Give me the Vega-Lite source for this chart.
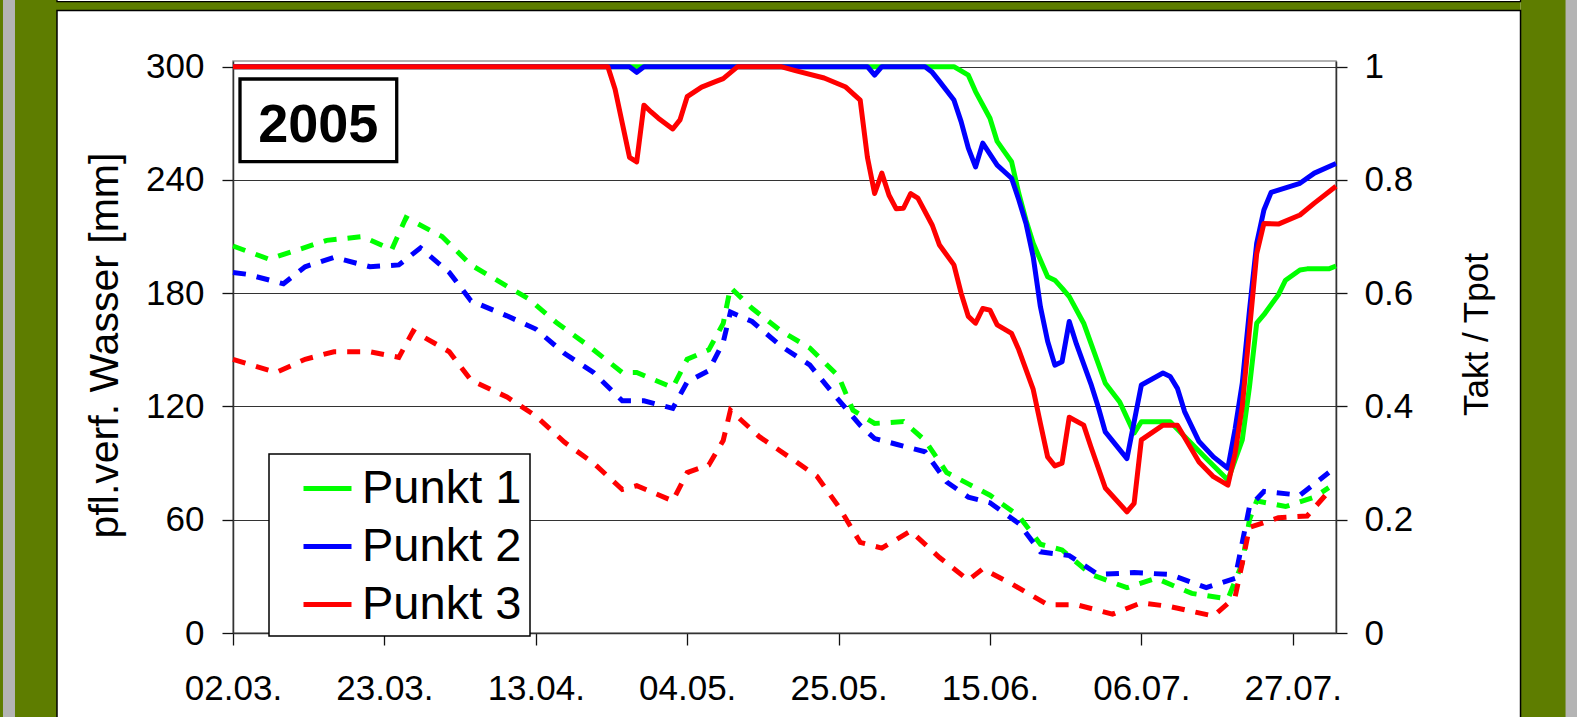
{
  "$schema": "https://vega.github.io/schema/vega-lite/v6.json",
  "width": 1103,
  "height": 572,
  "autosize": {"type": "none"},
  "padding": {"left": 233, "top": 61, "right": 249, "bottom": 84},
  "background": "white",
  "config": {
    "font": "Liberation Sans",
    "view": {"stroke": "#999", "strokeWidth": 1.5},
    "axis": {
      "labelFont": "Liberation Sans", "titleFont": "Liberation Sans",
      "labelColor": "black", "titleColor": "black", "labelFontSize": 35,
      "titleFontWeight": "normal", "domainColor": "#333", "domainWidth": 1.5,
      "tickColor": "#111", "tickWidth": 1.3, "labelFlush": false,
      "labelOverlap": false, "labelBound": false
    },
    "legend": {
      "orient": "none", "legendX": 36, "legendY": 393, "title": null,
      "fillColor": "white", "strokeColor": "black", "strokeWidth": 1.5,
      "padding": 8, "cornerRadius": 0,
      "symbolType": "stroke", "symbolSize": 2304, "symbolStrokeWidth": 5,
      "symbolOffset": 24, "symbolDash": [1, 0],
      "labelOffset": 8, "labelFontSize": 47, "labelFont": "Liberation Sans",
      "labelColor": "black", "labelLimit": 400, "rowPadding": 8
    }
  },
  "datasets": {
    "dashed": [
      {"date": "2005-03-02", "punkt": "Punkt 1", "value": 205},
      {"date": "2005-03-07", "punkt": "Punkt 1", "value": 198},
      {"date": "2005-03-11", "punkt": "Punkt 1", "value": 203},
      {"date": "2005-03-15", "punkt": "Punkt 1", "value": 208},
      {"date": "2005-03-20", "punkt": "Punkt 1", "value": 210},
      {"date": "2005-03-24", "punkt": "Punkt 1", "value": 203},
      {"date": "2005-03-26", "punkt": "Punkt 1", "value": 220},
      {"date": "2005-03-31", "punkt": "Punkt 1", "value": 210},
      {"date": "2005-04-04", "punkt": "Punkt 1", "value": 195},
      {"date": "2005-04-08", "punkt": "Punkt 1", "value": 186},
      {"date": "2005-04-12", "punkt": "Punkt 1", "value": 177},
      {"date": "2005-04-16", "punkt": "Punkt 1", "value": 164},
      {"date": "2005-04-20", "punkt": "Punkt 1", "value": 153},
      {"date": "2005-04-25", "punkt": "Punkt 1", "value": 138},
      {"date": "2005-04-27", "punkt": "Punkt 1", "value": 138},
      {"date": "2005-05-02", "punkt": "Punkt 1", "value": 130},
      {"date": "2005-05-04", "punkt": "Punkt 1", "value": 145},
      {"date": "2005-05-07", "punkt": "Punkt 1", "value": 150},
      {"date": "2005-05-09", "punkt": "Punkt 1", "value": 164},
      {"date": "2005-05-10", "punkt": "Punkt 1", "value": 183},
      {"date": "2005-05-13", "punkt": "Punkt 1", "value": 172},
      {"date": "2005-05-17", "punkt": "Punkt 1", "value": 160},
      {"date": "2005-05-21", "punkt": "Punkt 1", "value": 151},
      {"date": "2005-05-25", "punkt": "Punkt 1", "value": 136},
      {"date": "2005-05-27", "punkt": "Punkt 1", "value": 118},
      {"date": "2005-05-30", "punkt": "Punkt 1", "value": 111},
      {"date": "2005-06-03", "punkt": "Punkt 1", "value": 112},
      {"date": "2005-06-06", "punkt": "Punkt 1", "value": 102},
      {"date": "2005-06-09", "punkt": "Punkt 1", "value": 85},
      {"date": "2005-06-12", "punkt": "Punkt 1", "value": 79},
      {"date": "2005-06-15", "punkt": "Punkt 1", "value": 73},
      {"date": "2005-06-19", "punkt": "Punkt 1", "value": 62},
      {"date": "2005-06-22", "punkt": "Punkt 1", "value": 47},
      {"date": "2005-06-25", "punkt": "Punkt 1", "value": 44},
      {"date": "2005-06-29", "punkt": "Punkt 1", "value": 31},
      {"date": "2005-07-04", "punkt": "Punkt 1", "value": 24},
      {"date": "2005-07-08", "punkt": "Punkt 1", "value": 29},
      {"date": "2005-07-13", "punkt": "Punkt 1", "value": 21},
      {"date": "2005-07-18", "punkt": "Punkt 1", "value": 18},
      {"date": "2005-07-20", "punkt": "Punkt 1", "value": 37},
      {"date": "2005-07-21", "punkt": "Punkt 1", "value": 60},
      {"date": "2005-07-22", "punkt": "Punkt 1", "value": 70},
      {"date": "2005-07-26", "punkt": "Punkt 1", "value": 67},
      {"date": "2005-07-30", "punkt": "Punkt 1", "value": 72},
      {"date": "2005-08-01", "punkt": "Punkt 1", "value": 77},
      {"date": "2005-03-02", "punkt": "Punkt 2", "value": 191},
      {"date": "2005-03-04", "punkt": "Punkt 2", "value": 190},
      {"date": "2005-03-09", "punkt": "Punkt 2", "value": 185},
      {"date": "2005-03-12", "punkt": "Punkt 2", "value": 194},
      {"date": "2005-03-16", "punkt": "Punkt 2", "value": 199},
      {"date": "2005-03-21", "punkt": "Punkt 2", "value": 194},
      {"date": "2005-03-25", "punkt": "Punkt 2", "value": 195},
      {"date": "2005-03-28", "punkt": "Punkt 2", "value": 204},
      {"date": "2005-04-01", "punkt": "Punkt 2", "value": 191},
      {"date": "2005-04-04", "punkt": "Punkt 2", "value": 176},
      {"date": "2005-04-09", "punkt": "Punkt 2", "value": 168},
      {"date": "2005-04-13", "punkt": "Punkt 2", "value": 161},
      {"date": "2005-04-17", "punkt": "Punkt 2", "value": 148},
      {"date": "2005-04-21", "punkt": "Punkt 2", "value": 138},
      {"date": "2005-04-25", "punkt": "Punkt 2", "value": 123},
      {"date": "2005-04-28", "punkt": "Punkt 2", "value": 123},
      {"date": "2005-05-02", "punkt": "Punkt 2", "value": 119},
      {"date": "2005-05-04", "punkt": "Punkt 2", "value": 133},
      {"date": "2005-05-07", "punkt": "Punkt 2", "value": 139},
      {"date": "2005-05-09", "punkt": "Punkt 2", "value": 154},
      {"date": "2005-05-10", "punkt": "Punkt 2", "value": 170},
      {"date": "2005-05-13", "punkt": "Punkt 2", "value": 165},
      {"date": "2005-05-17", "punkt": "Punkt 2", "value": 152},
      {"date": "2005-05-21", "punkt": "Punkt 2", "value": 142},
      {"date": "2005-05-24", "punkt": "Punkt 2", "value": 128},
      {"date": "2005-05-28", "punkt": "Punkt 2", "value": 110},
      {"date": "2005-05-30", "punkt": "Punkt 2", "value": 103},
      {"date": "2005-06-02", "punkt": "Punkt 2", "value": 100},
      {"date": "2005-06-06", "punkt": "Punkt 2", "value": 96},
      {"date": "2005-06-09", "punkt": "Punkt 2", "value": 80},
      {"date": "2005-06-12", "punkt": "Punkt 2", "value": 72},
      {"date": "2005-06-15", "punkt": "Punkt 2", "value": 69},
      {"date": "2005-06-19", "punkt": "Punkt 2", "value": 58},
      {"date": "2005-06-22", "punkt": "Punkt 2", "value": 43},
      {"date": "2005-06-26", "punkt": "Punkt 2", "value": 41},
      {"date": "2005-06-30", "punkt": "Punkt 2", "value": 31},
      {"date": "2005-07-05", "punkt": "Punkt 2", "value": 32},
      {"date": "2005-07-10", "punkt": "Punkt 2", "value": 31},
      {"date": "2005-07-15", "punkt": "Punkt 2", "value": 24},
      {"date": "2005-07-19", "punkt": "Punkt 2", "value": 29},
      {"date": "2005-07-20", "punkt": "Punkt 2", "value": 48},
      {"date": "2005-07-21", "punkt": "Punkt 2", "value": 67},
      {"date": "2005-07-23", "punkt": "Punkt 2", "value": 75},
      {"date": "2005-07-28", "punkt": "Punkt 2", "value": 73},
      {"date": "2005-08-01", "punkt": "Punkt 2", "value": 85},
      {"date": "2005-03-02", "punkt": "Punkt 3", "value": 145},
      {"date": "2005-03-08", "punkt": "Punkt 3", "value": 138},
      {"date": "2005-03-12", "punkt": "Punkt 3", "value": 145},
      {"date": "2005-03-16", "punkt": "Punkt 3", "value": 149},
      {"date": "2005-03-21", "punkt": "Punkt 3", "value": 149},
      {"date": "2005-03-25", "punkt": "Punkt 3", "value": 146},
      {"date": "2005-03-27", "punkt": "Punkt 3", "value": 160},
      {"date": "2005-04-01", "punkt": "Punkt 3", "value": 149},
      {"date": "2005-04-04", "punkt": "Punkt 3", "value": 134},
      {"date": "2005-04-09", "punkt": "Punkt 3", "value": 125},
      {"date": "2005-04-13", "punkt": "Punkt 3", "value": 115},
      {"date": "2005-04-17", "punkt": "Punkt 3", "value": 101},
      {"date": "2005-04-21", "punkt": "Punkt 3", "value": 90},
      {"date": "2005-04-25", "punkt": "Punkt 3", "value": 76},
      {"date": "2005-04-27", "punkt": "Punkt 3", "value": 78},
      {"date": "2005-05-02", "punkt": "Punkt 3", "value": 70},
      {"date": "2005-05-04", "punkt": "Punkt 3", "value": 85},
      {"date": "2005-05-07", "punkt": "Punkt 3", "value": 89},
      {"date": "2005-05-09", "punkt": "Punkt 3", "value": 102},
      {"date": "2005-05-10", "punkt": "Punkt 3", "value": 118},
      {"date": "2005-05-14", "punkt": "Punkt 3", "value": 104},
      {"date": "2005-05-19", "punkt": "Punkt 3", "value": 91},
      {"date": "2005-05-22", "punkt": "Punkt 3", "value": 83},
      {"date": "2005-05-25", "punkt": "Punkt 3", "value": 67},
      {"date": "2005-05-28", "punkt": "Punkt 3", "value": 48},
      {"date": "2005-05-31", "punkt": "Punkt 3", "value": 45},
      {"date": "2005-06-04", "punkt": "Punkt 3", "value": 54},
      {"date": "2005-06-08", "punkt": "Punkt 3", "value": 40},
      {"date": "2005-06-12", "punkt": "Punkt 3", "value": 28},
      {"date": "2005-06-14", "punkt": "Punkt 3", "value": 34},
      {"date": "2005-06-18", "punkt": "Punkt 3", "value": 26},
      {"date": "2005-06-23", "punkt": "Punkt 3", "value": 15},
      {"date": "2005-06-27", "punkt": "Punkt 3", "value": 15},
      {"date": "2005-07-02", "punkt": "Punkt 3", "value": 10},
      {"date": "2005-07-06", "punkt": "Punkt 3", "value": 16},
      {"date": "2005-07-10", "punkt": "Punkt 3", "value": 14},
      {"date": "2005-07-16", "punkt": "Punkt 3", "value": 9},
      {"date": "2005-07-19", "punkt": "Punkt 3", "value": 19},
      {"date": "2005-07-20", "punkt": "Punkt 3", "value": 37},
      {"date": "2005-07-21", "punkt": "Punkt 3", "value": 56},
      {"date": "2005-07-25", "punkt": "Punkt 3", "value": 61},
      {"date": "2005-07-29", "punkt": "Punkt 3", "value": 62},
      {"date": "2005-08-01", "punkt": "Punkt 3", "value": 75}
    ],
    "solid": [
      {"date": "2005-03-02", "punkt": "Punkt 1", "value": 1},
      {"date": "2005-06-10", "punkt": "Punkt 1", "value": 1},
      {"date": "2005-06-12", "punkt": "Punkt 1", "value": 0.985},
      {"date": "2005-06-13", "punkt": "Punkt 1", "value": 0.956},
      {"date": "2005-06-15", "punkt": "Punkt 1", "value": 0.909},
      {"date": "2005-06-16", "punkt": "Punkt 1", "value": 0.868},
      {"date": "2005-06-17", "punkt": "Punkt 1", "value": 0.85},
      {"date": "2005-06-18", "punkt": "Punkt 1", "value": 0.832},
      {"date": "2005-06-19", "punkt": "Punkt 1", "value": 0.776},
      {"date": "2005-06-20", "punkt": "Punkt 1", "value": 0.729},
      {"date": "2005-06-21", "punkt": "Punkt 1", "value": 0.688},
      {"date": "2005-06-23", "punkt": "Punkt 1", "value": 0.629},
      {"date": "2005-06-24", "punkt": "Punkt 1", "value": 0.623},
      {"date": "2005-06-25", "punkt": "Punkt 1", "value": 0.609},
      {"date": "2005-06-26", "punkt": "Punkt 1", "value": 0.594},
      {"date": "2005-06-28", "punkt": "Punkt 1", "value": 0.547},
      {"date": "2005-07-01", "punkt": "Punkt 1", "value": 0.441},
      {"date": "2005-07-03", "punkt": "Punkt 1", "value": 0.408},
      {"date": "2005-07-05", "punkt": "Punkt 1", "value": 0.353},
      {"date": "2005-07-06", "punkt": "Punkt 1", "value": 0.373},
      {"date": "2005-07-10", "punkt": "Punkt 1", "value": 0.373},
      {"date": "2005-07-12", "punkt": "Punkt 1", "value": 0.347},
      {"date": "2005-07-15", "punkt": "Punkt 1", "value": 0.308},
      {"date": "2005-07-18", "punkt": "Punkt 1", "value": 0.27},
      {"date": "2005-07-20", "punkt": "Punkt 1", "value": 0.341},
      {"date": "2005-07-21", "punkt": "Punkt 1", "value": 0.435},
      {"date": "2005-07-22", "punkt": "Punkt 1", "value": 0.547},
      {"date": "2005-07-23", "punkt": "Punkt 1", "value": 0.562},
      {"date": "2005-07-25", "punkt": "Punkt 1", "value": 0.597},
      {"date": "2005-07-26", "punkt": "Punkt 1", "value": 0.623},
      {"date": "2005-07-28", "punkt": "Punkt 1", "value": 0.641},
      {"date": "2005-07-29", "punkt": "Punkt 1", "value": 0.643},
      {"date": "2005-08-01", "punkt": "Punkt 1", "value": 0.643},
      {"date": "2005-08-02", "punkt": "Punkt 1", "value": 0.648},
      {"date": "2005-03-02", "punkt": "Punkt 2", "value": 1},
      {"date": "2005-04-26", "punkt": "Punkt 2", "value": 1},
      {"date": "2005-04-27", "punkt": "Punkt 2", "value": 0.99},
      {"date": "2005-04-28", "punkt": "Punkt 2", "value": 1},
      {"date": "2005-05-29", "punkt": "Punkt 2", "value": 1},
      {"date": "2005-05-30", "punkt": "Punkt 2", "value": 0.985},
      {"date": "2005-05-31", "punkt": "Punkt 2", "value": 1},
      {"date": "2005-06-06", "punkt": "Punkt 2", "value": 1},
      {"date": "2005-06-07", "punkt": "Punkt 2", "value": 0.99},
      {"date": "2005-06-08", "punkt": "Punkt 2", "value": 0.974},
      {"date": "2005-06-10", "punkt": "Punkt 2", "value": 0.941},
      {"date": "2005-06-11", "punkt": "Punkt 2", "value": 0.903},
      {"date": "2005-06-12", "punkt": "Punkt 2", "value": 0.856},
      {"date": "2005-06-13", "punkt": "Punkt 2", "value": 0.823},
      {"date": "2005-06-14", "punkt": "Punkt 2", "value": 0.865},
      {"date": "2005-06-16", "punkt": "Punkt 2", "value": 0.826},
      {"date": "2005-06-18", "punkt": "Punkt 2", "value": 0.803},
      {"date": "2005-06-19", "punkt": "Punkt 2", "value": 0.765},
      {"date": "2005-06-20", "punkt": "Punkt 2", "value": 0.723},
      {"date": "2005-06-21", "punkt": "Punkt 2", "value": 0.664},
      {"date": "2005-06-22", "punkt": "Punkt 2", "value": 0.576},
      {"date": "2005-06-23", "punkt": "Punkt 2", "value": 0.515},
      {"date": "2005-06-24", "punkt": "Punkt 2", "value": 0.473},
      {"date": "2005-06-25", "punkt": "Punkt 2", "value": 0.479},
      {"date": "2005-06-26", "punkt": "Punkt 2", "value": 0.55},
      {"date": "2005-06-27", "punkt": "Punkt 2", "value": 0.51},
      {"date": "2005-06-29", "punkt": "Punkt 2", "value": 0.44},
      {"date": "2005-06-30", "punkt": "Punkt 2", "value": 0.4},
      {"date": "2005-07-01", "punkt": "Punkt 2", "value": 0.355},
      {"date": "2005-07-04", "punkt": "Punkt 2", "value": 0.308},
      {"date": "2005-07-06", "punkt": "Punkt 2", "value": 0.438},
      {"date": "2005-07-09", "punkt": "Punkt 2", "value": 0.459},
      {"date": "2005-07-10", "punkt": "Punkt 2", "value": 0.453},
      {"date": "2005-07-11", "punkt": "Punkt 2", "value": 0.432},
      {"date": "2005-07-12", "punkt": "Punkt 2", "value": 0.391},
      {"date": "2005-07-14", "punkt": "Punkt 2", "value": 0.338},
      {"date": "2005-07-16", "punkt": "Punkt 2", "value": 0.311},
      {"date": "2005-07-18", "punkt": "Punkt 2", "value": 0.291},
      {"date": "2005-07-19", "punkt": "Punkt 2", "value": 0.36},
      {"date": "2005-07-20", "punkt": "Punkt 2", "value": 0.441},
      {"date": "2005-07-21", "punkt": "Punkt 2", "value": 0.57},
      {"date": "2005-07-22", "punkt": "Punkt 2", "value": 0.688},
      {"date": "2005-07-23", "punkt": "Punkt 2", "value": 0.747},
      {"date": "2005-07-24", "punkt": "Punkt 2", "value": 0.778},
      {"date": "2005-07-28", "punkt": "Punkt 2", "value": 0.794},
      {"date": "2005-07-30", "punkt": "Punkt 2", "value": 0.812},
      {"date": "2005-08-02", "punkt": "Punkt 2", "value": 0.829},
      {"date": "2005-03-02", "punkt": "Punkt 3", "value": 1},
      {"date": "2005-04-23", "punkt": "Punkt 3", "value": 1},
      {"date": "2005-04-24", "punkt": "Punkt 3", "value": 0.96},
      {"date": "2005-04-25", "punkt": "Punkt 3", "value": 0.9},
      {"date": "2005-04-26", "punkt": "Punkt 3", "value": 0.84},
      {"date": "2005-04-27", "punkt": "Punkt 3", "value": 0.832},
      {"date": "2005-04-28", "punkt": "Punkt 3", "value": 0.932},
      {"date": "2005-04-29", "punkt": "Punkt 3", "value": 0.92},
      {"date": "2005-04-30", "punkt": "Punkt 3", "value": 0.909},
      {"date": "2005-05-02", "punkt": "Punkt 3", "value": 0.89},
      {"date": "2005-05-03", "punkt": "Punkt 3", "value": 0.906},
      {"date": "2005-05-04", "punkt": "Punkt 3", "value": 0.947},
      {"date": "2005-05-06", "punkt": "Punkt 3", "value": 0.964},
      {"date": "2005-05-08", "punkt": "Punkt 3", "value": 0.974},
      {"date": "2005-05-09", "punkt": "Punkt 3", "value": 0.979},
      {"date": "2005-05-11", "punkt": "Punkt 3", "value": 1},
      {"date": "2005-05-17", "punkt": "Punkt 3", "value": 1},
      {"date": "2005-05-19", "punkt": "Punkt 3", "value": 0.993},
      {"date": "2005-05-23", "punkt": "Punkt 3", "value": 0.98},
      {"date": "2005-05-26", "punkt": "Punkt 3", "value": 0.964},
      {"date": "2005-05-28", "punkt": "Punkt 3", "value": 0.941},
      {"date": "2005-05-29", "punkt": "Punkt 3", "value": 0.84},
      {"date": "2005-05-30", "punkt": "Punkt 3", "value": 0.776},
      {"date": "2005-05-31", "punkt": "Punkt 3", "value": 0.812},
      {"date": "2005-06-01", "punkt": "Punkt 3", "value": 0.773},
      {"date": "2005-06-02", "punkt": "Punkt 3", "value": 0.749},
      {"date": "2005-06-03", "punkt": "Punkt 3", "value": 0.75},
      {"date": "2005-06-04", "punkt": "Punkt 3", "value": 0.776},
      {"date": "2005-06-05", "punkt": "Punkt 3", "value": 0.768},
      {"date": "2005-06-07", "punkt": "Punkt 3", "value": 0.72},
      {"date": "2005-06-08", "punkt": "Punkt 3", "value": 0.685},
      {"date": "2005-06-10", "punkt": "Punkt 3", "value": 0.65},
      {"date": "2005-06-11", "punkt": "Punkt 3", "value": 0.6},
      {"date": "2005-06-12", "punkt": "Punkt 3", "value": 0.559},
      {"date": "2005-06-13", "punkt": "Punkt 3", "value": 0.547},
      {"date": "2005-06-14", "punkt": "Punkt 3", "value": 0.573},
      {"date": "2005-06-15", "punkt": "Punkt 3", "value": 0.57},
      {"date": "2005-06-16", "punkt": "Punkt 3", "value": 0.544},
      {"date": "2005-06-18", "punkt": "Punkt 3", "value": 0.529},
      {"date": "2005-06-19", "punkt": "Punkt 3", "value": 0.5},
      {"date": "2005-06-21", "punkt": "Punkt 3", "value": 0.43},
      {"date": "2005-06-22", "punkt": "Punkt 3", "value": 0.37},
      {"date": "2005-06-23", "punkt": "Punkt 3", "value": 0.311},
      {"date": "2005-06-24", "punkt": "Punkt 3", "value": 0.295},
      {"date": "2005-06-25", "punkt": "Punkt 3", "value": 0.3},
      {"date": "2005-06-26", "punkt": "Punkt 3", "value": 0.381},
      {"date": "2005-06-28", "punkt": "Punkt 3", "value": 0.367},
      {"date": "2005-06-29", "punkt": "Punkt 3", "value": 0.329},
      {"date": "2005-07-01", "punkt": "Punkt 3", "value": 0.256},
      {"date": "2005-07-04", "punkt": "Punkt 3", "value": 0.214},
      {"date": "2005-07-05", "punkt": "Punkt 3", "value": 0.229},
      {"date": "2005-07-06", "punkt": "Punkt 3", "value": 0.341},
      {"date": "2005-07-09", "punkt": "Punkt 3", "value": 0.367},
      {"date": "2005-07-11", "punkt": "Punkt 3", "value": 0.367},
      {"date": "2005-07-14", "punkt": "Punkt 3", "value": 0.302},
      {"date": "2005-07-16", "punkt": "Punkt 3", "value": 0.276},
      {"date": "2005-07-18", "punkt": "Punkt 3", "value": 0.261},
      {"date": "2005-07-19", "punkt": "Punkt 3", "value": 0.317},
      {"date": "2005-07-20", "punkt": "Punkt 3", "value": 0.4},
      {"date": "2005-07-21", "punkt": "Punkt 3", "value": 0.535},
      {"date": "2005-07-22", "punkt": "Punkt 3", "value": 0.67},
      {"date": "2005-07-23", "punkt": "Punkt 3", "value": 0.723},
      {"date": "2005-07-25", "punkt": "Punkt 3", "value": 0.722},
      {"date": "2005-07-28", "punkt": "Punkt 3", "value": 0.738},
      {"date": "2005-07-30", "punkt": "Punkt 3", "value": 0.759},
      {"date": "2005-08-02", "punkt": "Punkt 3", "value": 0.789}
    ]
  },
  "resolve": {"scale": {"y": "independent"}},
  "layer": [
    {
      "layer": [
        {
          "data": {"name": "dashed"},
          "mark": {"type": "line", "strokeWidth": 5, "strokeDash": [13, 11], "strokeCap": "butt", "opacity": 0},
          "encoding": {
            "x": {
              "field": "date", "type": "temporal",
              "scale": {"type": "utc", "domain": [{"year": 2005, "month": 3, "date": 2, "utc": true}, {"year": 2005, "month": 8, "date": 2, "utc": true}], "nice": false},
              "axis": {
                "values": [
                  {"year": 2005, "month": 3, "date": 2, "utc": true},
                  {"year": 2005, "month": 3, "date": 23, "utc": true},
                  {"year": 2005, "month": 4, "date": 13, "utc": true},
                  {"year": 2005, "month": 5, "date": 4, "utc": true},
                  {"year": 2005, "month": 5, "date": 25, "utc": true},
                  {"year": 2005, "month": 6, "date": 15, "utc": true},
                  {"year": 2005, "month": 7, "date": 6, "utc": true},
                  {"year": 2005, "month": 7, "date": 27, "utc": true}
                ],
                "labelExpr": "utcFormat(datum.value, '%d.%m.')", "title": null,
                "tickSize": 12, "labelPadding": 26, "grid": false
              }
            },
            "y": {
              "field": "value", "type": "quantitative",
              "scale": {"domain": [0, 303], "nice": false, "zero": false},
              "axis": {
                "orient": "left", "values": [0, 60, 120, 180, 240, 300],
                "title": "pfl.verf. Wasser [mm]", "titleFontSize": 41,
                "titleAngle": -90, "titleX": -107, "titleY": 284,
                "titleBaseline": "bottom", "titleAlign": "center",
                "tickSize": 11, "labelPadding": 18,
                "grid": true, "gridColor": "#333", "gridWidth": 1.2
              }
            },
            "color": {
              "field": "punkt", "type": "nominal",
              "scale": {"domain": ["Punkt 1", "Punkt 2", "Punkt 3"], "range": ["#00ff00", "#0000ff", "#ff0000"]}
            }
          }
        },
        {
          "data": {"values": [{}]},
          "mark": {"type": "rect", "fill": "#5e7d00", "clip": false},
          "encoding": {
            "x": {"datum": {"year": 2004, "month": 12, "date": 1, "utc": true}, "type": "temporal"},
            "x2": {"datum": {"year": 2005, "month": 2, "date": 5, "hours": 14, "minutes": 4, "utc": true}},
            "y": {"datum": -200, "type": "quantitative"},
            "y2": {"datum": 500}
          }
        },
        {
          "data": {"values": [{}]},
          "mark": {"type": "rect", "fill": "#5e7d00", "clip": false},
          "encoding": {
            "x": {"datum": {"year": 2005, "month": 8, "date": 27, "hours": 14, "minutes": 20, "utc": true}, "type": "temporal"},
            "x2": {"datum": {"year": 2006, "month": 1, "date": 1, "utc": true}},
            "y": {"datum": -200, "type": "quantitative"},
            "y2": {"datum": 500}
          }
        },
        {
          "data": {"values": [{}]},
          "mark": {"type": "rect", "fill": "#5e7d00", "clip": false},
          "encoding": {
            "x": {"datum": {"year": 2005, "month": 2, "date": 5, "hours": 14, "minutes": 4, "utc": true}, "type": "temporal"},
            "x2": {"datum": {"year": 2005, "month": 8, "date": 27, "hours": 14, "minutes": 20, "utc": true}},
            "y": {"datum": 329.7, "type": "quantitative"},
            "y2": {"datum": 500}
          }
        },
        {
          "data": {"values": [{}]},
          "mark": {"type": "rect", "fill": "white", "stroke": "black", "strokeWidth": 1.3, "clip": false},
          "encoding": {
            "x": {"datum": {"year": 2005, "month": 2, "date": 5, "hours": 14, "minutes": 4, "utc": true}, "type": "temporal"},
            "x2": {"datum": {"year": 2005, "month": 8, "date": 27, "hours": 14, "minutes": 20, "utc": true}},
            "y": {"datum": 334.5, "type": "quantitative"},
            "y2": {"datum": 500}
          }
        },
        {
          "data": {"values": [{}]},
          "mark": {"type": "rect", "fill": "#b4b4b4", "clip": false},
          "encoding": {
            "x": {"datum": {"year": 2005, "month": 1, "date": 29, "hours": 2, "minutes": 17, "utc": true}, "type": "temporal"},
            "x2": {"datum": {"year": 2005, "month": 1, "date": 30, "hours": 18, "minutes": 14, "utc": true}},
            "y": {"datum": -200, "type": "quantitative"},
            "y2": {"datum": 500}
          }
        },
        {
          "data": {"values": [{}]},
          "mark": {"type": "rect", "fill": "#b4b4b4", "clip": false},
          "encoding": {
            "x": {"datum": {"year": 2005, "month": 9, "date": 2, "hours": 20, "minutes": 10, "utc": true}, "type": "temporal"},
            "x2": {"datum": {"year": 2005, "month": 9, "date": 4, "hours": 10, "minutes": 19, "utc": true}},
            "y": {"datum": -200, "type": "quantitative"},
            "y2": {"datum": 500}
          }
        },
        {
          "data": {"values": [{}]},
          "mark": {"type": "rect", "fill": "white", "clip": false},
          "encoding": {
            "x": {"datum": {"year": 2005, "month": 9, "date": 4, "hours": 10, "minutes": 19, "utc": true}, "type": "temporal"},
            "x2": {"datum": {"year": 2006, "month": 1, "date": 1, "utc": true}},
            "y": {"datum": -200, "type": "quantitative"},
            "y2": {"datum": 500}
          }
        },
        {
          "data": {"values": [{}]},
          "mark": {"type": "rect", "filled": false, "stroke": "black", "strokeWidth": 1.5, "clip": false},
          "encoding": {
            "x": {"datum": {"year": 2005, "month": 2, "date": 5, "hours": 14, "minutes": 4, "utc": true}, "type": "temporal"},
            "x2": {"datum": {"year": 2005, "month": 8, "date": 27, "hours": 14, "minutes": 20, "utc": true}},
            "y": {"datum": -200, "type": "quantitative"},
            "y2": {"datum": 329.7}
          }
        },
        {
          "data": {"values": [{}]},
          "mark": {"type": "rect", "fill": "white", "stroke": "black", "strokeWidth": 3.3, "clip": false},
          "encoding": {
            "x": {"datum": {"year": 2005, "month": 3, "date": 2, "hours": 23, "minutes": 18, "utc": true}, "type": "temporal"},
            "x2": {"datum": {"year": 2005, "month": 3, "date": 24, "hours": 17, "minutes": 2, "utc": true}},
            "y": {"datum": 293.46, "type": "quantitative"},
            "y2": {"datum": 249.71}
          }
        },
        {
          "data": {"values": [{}]},
          "mark": {"type": "text", "text": "2005", "font": "Liberation Sans", "fontSize": 54, "fontWeight": "bold", "align": "center", "baseline": "alphabetic", "color": "black"},
          "encoding": {
            "x": {"datum": {"year": 2005, "month": 3, "date": 13, "hours": 19, "minutes": 55, "utc": true}, "type": "temporal"},
            "y": {"datum": 260.25, "type": "quantitative"}
          }
        },
        {
          "data": {"name": "dashed"},
          "mark": {"type": "line", "strokeWidth": 5, "strokeDash": [13, 11], "strokeCap": "butt"},
          "encoding": {
            "x": {"field": "date", "type": "temporal"},
            "y": {"field": "value", "type": "quantitative"},
            "color": {"field": "punkt", "type": "nominal"}
          }
        }
      ]
    },
    {
      "data": {"name": "solid"},
      "mark": {"type": "line", "strokeWidth": 5, "strokeJoin": "round"},
      "encoding": {
        "x": {"field": "date", "type": "temporal"},
        "y": {
          "field": "value", "type": "quantitative",
          "scale": {"domain": [0, 1.01], "nice": false, "zero": false},
          "axis": {
            "orient": "right", "values": [0, 0.2, 0.4, 0.6, 0.8, 1], "format": "~g",
            "title": "Takt / Tpot", "titleFontSize": 35,
            "titleAngle": -90, "titleX": 158, "titleY": 273,
            "titleBaseline": "bottom", "titleAlign": "center",
            "tickSize": 11, "labelPadding": 17, "grid": false
          }
        },
        "color": {"field": "punkt", "type": "nominal"}
      }
    }
  ]
}
